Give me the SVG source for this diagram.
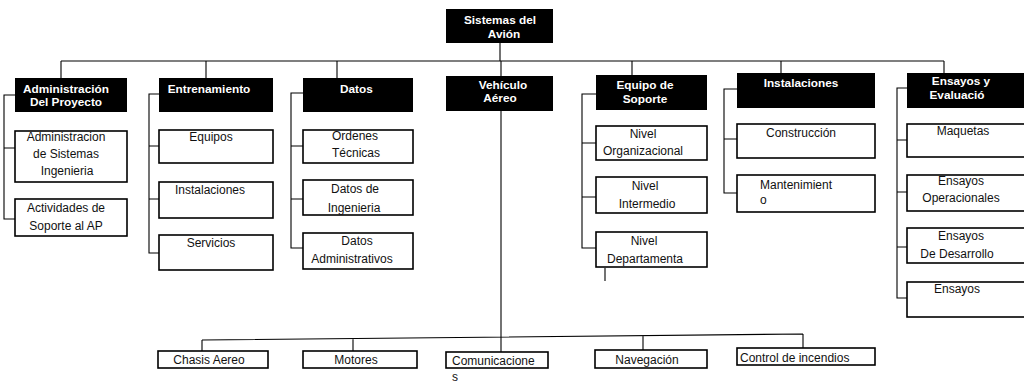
<svg xmlns="http://www.w3.org/2000/svg" width="1024" height="382" viewBox="0 0 1024 382">
  <style>
    .hd { fill: #000; }
    .bx { fill: #fff; stroke: #000; stroke-width: 1.6; }
    .ln { fill: none; stroke: #000; stroke-width: 1.1; }
    .th { font-family: "Liberation Sans", Arial, sans-serif; font-size: 11.8px; font-weight: bold; fill: #fff; text-anchor: middle; }
    .tc { font-family: "Liberation Sans", Arial, sans-serif; font-size: 12px; fill: #111; text-anchor: middle; }
    .tl { text-anchor: start; }
  </style>
  <rect width="1024" height="382" fill="#fff"/>

  <!-- connectors -->
  <g id="connectors" class="ln">
    <path d="M500,43 V61 M61,61 H944"/>
    <path d="M61,61 V78 M206,61 V78 M337,61 V78 M501,61 V76 M632,61 V75 M781,61 V73 M944,61 V73"/>
    <path d="M15,95 H4 V219 H15 M4,148 H15"/>
    <path d="M159,94 H149 V253 H159 M149,146 H159 M149,199 H159"/>
    <path d="M303,93 H291 V248 H303 M291,146 H303 M291,199 H303"/>
    <path d="M596,94 H582 V248 H596 M582,143 H596 M582,197 H596 M605,268 V281"/>
    <path d="M737,89 H724 V193 H737 M724,139 H737"/>
    <path d="M907,88 H897 V298 H907 M897,140 H907 M897,192 H907 M897,247 H907"/>
    <path d="M501,111 V352"/>
    <path d="M202,340 L803,334 M202,340 V351 M353,339 V351 M643,336 V350 M803,334 V348"/>
  </g>

  <!-- root -->
  <g id="sistemas">
    <rect class="hd" x="446" y="9" width="107" height="34"/>
    <text class="th" x="500" y="24">Sistemas del</text>
    <text class="th" x="504" y="38">Avión</text>
  </g>

  <!-- first level -->
  <g id="administracion">
    <rect class="hd" x="15" y="78" width="112" height="34"/>
    <text class="th" x="66" y="93">Administración</text>
    <text class="th" x="66" y="106">Del Proyecto</text>
  </g>
  <g id="entrenamiento">
    <rect class="hd" x="159" y="78" width="114" height="34"/>
    <text class="th" x="209" y="93">Entrenamiento</text>
  </g>
  <g id="datos">
    <rect class="hd" x="303" y="78" width="110" height="34"/>
    <text class="th tl" x="340" y="93">Datos</text>
  </g>
  <g id="vehiculo">
    <rect class="hd" x="446" y="76" width="107" height="35"/>
    <text class="th" x="503" y="89">Vehículo</text>
    <text class="th" x="500" y="102">Aéreo</text>
  </g>
  <g id="equipo">
    <rect class="hd" x="596" y="75" width="111" height="35"/>
    <text class="th" x="645" y="89">Equipo de</text>
    <text class="th" x="645" y="103">Soporte</text>
  </g>
  <g id="instalaciones">
    <rect class="hd" x="737" y="73" width="138" height="35"/>
    <text class="th" x="801" y="87">Instalaciones</text>
  </g>
  <g id="ensayos">
    <rect class="hd" x="907" y="73" width="120" height="35"/>
    <text class="th" x="961" y="85">Ensayos y</text>
    <text class="th" x="957" y="99">Evaluació</text>
  </g>

  <!-- Administración del proyecto -->
  <g id="adm-sistemas">
    <rect class="bx" x="15" y="131" width="112" height="51"/>
    <text class="tc" x="66" y="141">Administracion</text>
    <text class="tc" x="66" y="158">de Sistemas</text>
    <text class="tc" x="67" y="175">Ingenieria</text>
  </g>
  <g id="adm-actividades">
    <rect class="bx" x="15" y="199" width="112" height="37"/>
    <text class="tc" x="66" y="212">Actividades de</text>
    <text class="tc" x="66" y="230">Soporte al AP</text>
  </g>

  <!-- Entrenamiento -->
  <g id="ent-equipos">
    <rect class="bx" x="159" y="130" width="114" height="33"/>
    <text class="tc" x="211" y="141">Equipos</text>
  </g>
  <g id="ent-instalaciones">
    <rect class="bx" x="159" y="182" width="114" height="36"/>
    <text class="tc" x="210" y="194">Instalaciones</text>
  </g>
  <g id="ent-servicios">
    <rect class="bx" x="159" y="235" width="114" height="35"/>
    <text class="tc" x="211" y="247">Servicios</text>
  </g>

  <!-- Datos -->
  <g id="dat-ordenes">
    <rect class="bx" x="303" y="130" width="110" height="33"/>
    <text class="tc" x="355" y="140">Ordenes</text>
    <text class="tc" x="356" y="157">Técnicas</text>
  </g>
  <g id="dat-ingenieria">
    <rect class="bx" x="303" y="180" width="110" height="35"/>
    <text class="tc" x="355" y="193">Datos de</text>
    <text class="tc" x="354" y="212">Ingenieria</text>
  </g>
  <g id="dat-administrativos">
    <rect class="bx" x="303" y="233" width="110" height="36"/>
    <text class="tc" x="357" y="245">Datos</text>
    <text class="tc" x="352" y="263">Administrativos</text>
  </g>

  <!-- Equipo de soporte -->
  <g id="eq-organizacional">
    <rect class="bx" x="596" y="126" width="111" height="34"/>
    <text class="tc" x="643" y="138">Nivel</text>
    <text class="tc" x="643" y="155">Organizacional</text>
  </g>
  <g id="eq-intermedio">
    <rect class="bx" x="596" y="177" width="111" height="36"/>
    <text class="tc" x="645" y="190">Nivel</text>
    <text class="tc" x="647" y="208">Intermedio</text>
  </g>
  <g id="eq-departamenta">
    <rect class="bx" x="596" y="232" width="111" height="35"/>
    <text class="tc" x="644" y="245">Nivel</text>
    <text class="tc" x="645" y="263">Departamenta</text>
  </g>

  <!-- Instalaciones -->
  <g id="ins-construccion">
    <rect class="bx" x="737" y="124" width="138" height="34"/>
    <text class="tc" x="801" y="137">Construcción</text>
  </g>
  <g id="ins-mantenimiento">
    <rect class="bx" x="737" y="175" width="138" height="37"/>
    <text class="tc tl" x="760" y="189">Mantenimient</text>
    <text class="tc tl" x="760" y="204">o</text>
  </g>

  <!-- Ensayos y evaluación -->
  <g id="ens-maquetas">
    <rect class="bx" x="907" y="124" width="120" height="33"/>
    <text class="tc" x="963" y="135">Maquetas</text>
  </g>
  <g id="ens-operacionales">
    <rect class="bx" x="907" y="175" width="120" height="36"/>
    <text class="tc" x="961" y="185">Ensayos</text>
    <text class="tc" x="961" y="202">Operacionales</text>
  </g>
  <g id="ens-desarrollo">
    <rect class="bx" x="907" y="228" width="120" height="35"/>
    <text class="tc" x="961" y="240">Ensayos</text>
    <text class="tc" x="957" y="258">De Desarrollo</text>
  </g>
  <g id="ens-ensayos">
    <rect class="bx" x="907" y="282" width="120" height="35"/>
    <text class="tc" x="957" y="293">Ensayos</text>
  </g>

  <!-- Vehículo aéreo -->
  <g id="veh-chasis">
    <rect class="bx" x="158" y="351" width="110" height="17"/>
    <text class="tc" x="209" y="364">Chasis Aereo</text>
  </g>
  <g id="veh-motores">
    <rect class="bx" x="303" y="351" width="114" height="17"/>
    <text class="tc" x="356" y="364">Motores</text>
  </g>
  <g id="veh-comunicaciones">
    <rect class="bx" x="446" y="352" width="102" height="16"/>
    <text class="tc tl" x="452" y="365">Comunicacione</text>
    <text class="tc tl" x="452" y="381">s</text>
  </g>
  <g id="veh-navegacion">
    <rect class="bx" x="595" y="350" width="112" height="18"/>
    <text class="tc" x="647" y="364">Navegación</text>
  </g>
  <g id="veh-incendios">
    <rect class="bx" x="737" y="348" width="138" height="17"/>
    <text class="tc tl" x="740" y="362">Control de incendios</text>
  </g>
</svg>
